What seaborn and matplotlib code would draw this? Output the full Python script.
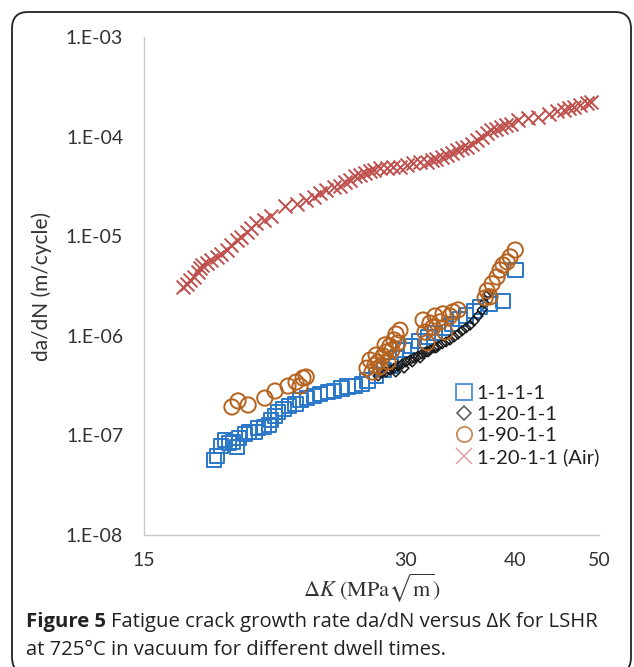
import matplotlib
matplotlib.use("Agg")
import matplotlib.pyplot as plt
import seaborn as sns
import numpy as np
from matplotlib.patches import FancyBboxPatch
from matplotlib.lines import Line2D
from matplotlib.ticker import LogLocator, FixedLocator, FuncFormatter, NullLocator

# 1-1-1-1 (vacuum)
dk_1111 = [18.05, 18.2, 18.4, 18.6, 18.8, 19.0, 19.2, 19.3, 19.6, 19.8, 20.1, 20.3, 20.6, 20.9,
           21.0, 21.2, 21.4, 21.7, 22.0, 22.4, 22.7, 23.1, 23.5, 23.9, 24.4, 24.8, 25.3, 25.7,
           26.2, 26.7, 27.1, 27.7, 28.3, 28.8, 29.2, 29.8, 30.4, 31.1, 31.8, 32.4, 33.2, 33.9,
           34.6, 35.2, 35.9, 36.5, 37.5, 38.8, 40.1]
dadn_1111 = [5.66e-8, 6.2e-8, 7.8e-8, 9.0e-8, 8.4e-8, 8.6e-8, 7.7e-8, 9.4e-8, 1.03e-7, 1.08e-7,
             1.08e-7, 1.19e-7, 1.21e-7, 1.27e-7, 1.43e-7, 1.57e-7, 1.72e-7, 1.85e-7, 1.98e-7,
             2.07e-7, 2.27e-7, 2.38e-7, 2.5e-7, 2.6e-7, 2.73e-7, 2.8e-7, 2.95e-7, 3.1e-7, 3.15e-7,
             3.3e-7, 3.55e-7, 4.0e-7, 4.5e-7, 5.0e-7, 6.0e-7, 7.2e-7, 7.9e-7, 8.9e-7, 9.8e-7,
             1.07e-6, 1.2e-6, 1.32e-6, 1.47e-6, 1.6e-6, 1.76e-6, 1.93e-6, 2.07e-6, 2.22e-6, 4.58e-6]

# 1-20-1-1 (vacuum)
dk_12011 = [27.87, 28.16, 28.46, 28.76, 29.07, 29.38, 29.69, 30.0, 30.33, 30.65, 30.98, 31.31,
            31.64, 31.97, 32.32, 32.66, 33.01, 33.36, 33.71, 34.08, 34.44, 34.8, 35.17, 35.55,
            35.93, 36.31, 36.7, 36.9, 37.09, 37.3, 29.2, 29.85, 30.5, 31.15, 31.8, 32.5]
dadn_12011 = [3.95e-7, 4.23e-7, 4.33e-7, 4.53e-7, 4.74e-7, 4.97e-7, 5.2e-7, 5.46e-7, 5.71e-7,
              5.99e-7, 6.27e-7, 6.57e-7, 6.89e-7, 7.2e-7, 7.55e-7, 7.91e-7, 8.3e-7, 8.7e-7,
              9.08e-7, 9.73e-7, 1.04e-6, 1.12e-6, 1.2e-6, 1.28e-6, 1.41e-6, 1.58e-6, 1.82e-6,
              2.14e-6, 2.52e-6, 2.64e-6, 4.33e-7, 4.74e-7, 5.46e-7, 5.99e-7, 6.89e-7, 7.55e-7]

# 1-90-1-1 (vacuum)
dk_19011 = [18.93, 19.24, 19.76, 20.65, 21.22, 21.96, 22.43, 22.67, 22.85, 23.04,
            27.06, 27.43, 27.65, 27.87, 28.01, 28.24, 28.46, 28.61, 28.76, 28.91, 29.07, 29.22,
            29.38, 29.53, 28.39, 27.72, 27.28,
            31.39, 31.55, 31.72, 31.97, 32.23, 32.4, 32.83, 33.09, 33.27, 33.71, 33.98, 34.44,
            36.99, 37.19, 37.48, 37.68, 38.18, 38.48, 38.79, 39.21, 39.53, 40.06]
dadn_19011 = [1.93e-7, 2.22e-7, 2.02e-7, 2.37e-7, 2.79e-7, 3.13e-7, 3.43e-7, 3.13e-7, 3.77e-7, 3.86e-7,
              4.74e-7, 4.33e-7, 5.08e-7, 5.46e-7, 4.86e-7, 6.27e-7, 6.89e-7, 5.46e-7, 7.91e-7,
              7.2e-7, 9.08e-7, 1.04e-6, 8.5e-7, 1.14e-6, 8.1e-7, 6.4e-7, 5.71e-7,
              1.44e-6, 1.09e-6, 8.5e-7, 1.34e-6, 1.22e-6, 1.58e-6, 1.38e-6, 1.66e-6, 1.09e-6,
              1.58e-6, 1.74e-6, 1.82e-6,
              2.4e-6, 2.83e-6, 2.46e-6, 3.33e-6, 3.9e-6, 4.58e-6, 5.14e-6, 5.52e-6, 6.2e-6, 7.27e-6]

# 1-20-1-1 (air)
dk_air = [16.63, 16.8, 16.94, 17.1, 17.3, 17.39, 17.5, 17.7, 17.9, 18.2, 18.4, 18.7, 18.9, 19.2,
          19.4, 19.7, 19.9, 20.2, 20.6, 21.0, 21.8, 22.5, 23.0, 23.5, 23.9, 24.3, 24.8, 25.2,
          25.5, 25.9, 26.2, 26.6, 26.9, 27.3, 27.6, 28.0, 28.5, 29.0, 29.5, 30.1, 30.6, 31.1,
          31.7, 32.1, 32.5, 33.0, 33.4, 33.9, 34.3, 34.8, 35.3, 35.7, 36.2, 36.7, 37.2, 37.6,
          38.1, 38.6, 39.1, 39.6, 40.4, 41.4, 42.6, 43.8, 44.7, 45.6, 46.2, 46.8, 47.6, 48.4, 49.0]
dadn_air = [3.1e-6, 3.3e-6, 3.63e-6, 3.9e-6, 4.4e-6, 4.8e-6, 5.1e-6, 5.4e-6, 5.8e-6, 6.2e-6,
            6.7e-6, 7.3e-6, 8.1e-6, 9.2e-6, 9.9e-6, 1.1e-5, 1.2e-5, 1.35e-5, 1.45e-5, 1.6e-5,
            2.0e-5, 2.1e-5, 2.3e-5, 2.5e-5, 2.7e-5, 2.9e-5, 3.1e-5, 3.2e-5, 3.5e-5, 3.67e-5,
            4.0e-5, 4.15e-5, 4.3e-5, 4.5e-5, 4.6e-5, 4.8e-5, 4.8e-5, 5.0e-5, 5.0e-5, 5.2e-5,
            5.4e-5, 5.6e-5, 5.6e-5, 5.8e-5, 6.0e-5, 6.3e-5, 6.6e-5, 6.9e-5, 7.3e-5, 7.6e-5,
            7.9e-5, 8.5e-5, 9.25e-5, 1.0e-4, 1.08e-4, 1.16e-4, 1.2e-4, 1.26e-4, 1.3e-4, 1.35e-4,
            1.47e-4, 1.53e-4, 1.58e-4, 1.7e-4, 1.8e-4, 1.85e-4, 1.93e-4, 2.0e-4, 2.08e-4,
            2.17e-4, 2.25e-4]

labels = ["1-1-1-1", "1-20-1-1", "1-90-1-1", "1-20-1-1 (Air)"]
xticks = [15, 30, 40, 50]

blue = "#2b78c8"
black = "#1a1a1a"
brown = "#b5621e"
red = "#c0504d"

sns.set_style("white")
plt.rcParams["font.family"] = ["Lato", "DejaVu Sans"]
plt.rcParams["mathtext.fontset"] = "stix"

fig = plt.figure(figsize=(6.34, 6.67), dpi=100)
ax = fig.add_axes([0.2271, 0.1979, 0.7177, 0.7466])
ax.set_xscale("log")
ax.set_yscale("log")

sns.scatterplot(x=dk_1111, y=dadn_1111, marker="s", s=105, facecolor="none",
                edgecolor=blue, linewidth=1.4, ax=ax)
sns.scatterplot(x=dk_12011, y=dadn_12011, marker="D", s=24, facecolor="none",
                edgecolor=black, linewidth=1.1, ax=ax)
sns.scatterplot(x=dk_19011, y=dadn_19011, marker="o", s=120, facecolor="none",
                edgecolor=brown, linewidth=1.4, ax=ax)
sns.scatterplot(x=dk_air, y=dadn_air, marker="x", s=100, color=red, linewidth=1.4, ax=ax)

ax.set_xlim(15, 50)
ax.set_ylim(1e-8, 1e-3)

ax.xaxis.set_major_locator(FixedLocator(xticks))
ax.xaxis.set_major_formatter(FuncFormatter(lambda v, p: f"{v:g}"))
ax.xaxis.set_minor_locator(NullLocator())
ax.yaxis.set_major_locator(LogLocator(base=10))
ax.yaxis.set_minor_locator(LogLocator(base=10, subs=np.arange(2, 10)))
ax.yaxis.set_major_formatter(FuncFormatter(lambda v, p: f"1.E-{int(round(-np.log10(v))):02d}"))

for side in ["top", "right"]:
    ax.spines[side].set_visible(False)
for side in ["left", "bottom"]:
    ax.spines[side].set_color("#c8c8c8")
    ax.spines[side].set_linewidth(1.0)

ax.tick_params(axis="y", which="major", direction="out", length=5, width=0.8, color="#c8c8c8",
               labelsize=14, labelcolor="#333333", pad=10)
ax.tick_params(axis="y", which="minor", direction="out", length=4, width=0.6, color="#c8c8c8")
ax.tick_params(axis="x", which="major", direction="out", length=5, width=0.8, color="#c8c8c8",
               labelsize=14, labelcolor="#333333", pad=7)

ax.set_ylabel("da/dN (m/cycle)", fontsize=15, color="#333333", labelpad=10)
ax.set_xlabel(r"$\Delta K\ (\mathrm{MPa}\sqrt{\mathrm{m}})$", fontsize=16, color="#333333",
              labelpad=2)

handles = [
    Line2D([], [], ls="none", marker="s", ms=11, mfc="none", mec="#4a8fd6", mew=1.3),
    Line2D([], [], ls="none", marker="D", ms=7, mfc="none", mec="#555555", mew=1.1),
    Line2D([], [], ls="none", marker="o", ms=11, mfc="none", mec="#c98a55", mew=1.3),
    Line2D([], [], ls="none", marker="x", ms=11, mec="#e0a0a0", mew=1.1),
]
leg = ax.legend(handles, labels, loc="upper left", bbox_to_anchor=(0.665, 0.318),
                frameon=False, fontsize=14.5, handlelength=0.9, handletextpad=0.2,
                labelspacing=0.2, borderaxespad=0)
for t in leg.get_texts():
    t.set_color("#222222")

# rounded border around the whole figure panel
box = FancyBboxPatch((12 / 634, -0.01), 619 / 634, 1 - 12 / 667 + 0.01,
                     boxstyle="round,pad=0,rounding_size=0.025", transform=fig.transFigure,
                     fill=False, edgecolor="#222222", linewidth=1.3, clip_on=False)
fig.patches.append(box)

# caption
cap_font = dict(family=["Open Sans", "DejaVu Sans"], fontsize=14.6, color="#222222", va="baseline")
t1 = fig.text(26 / 634, 1 - 627 / 667, "Figure 5", weight="bold", **cap_font)
fig.canvas.draw()
bb = t1.get_window_extent()
fig.text((bb.x1 + 5) / 634, 1 - 627 / 667,
         "Fatigue crack growth rate da/dN versus \u0394K for LSHR", **cap_font)
fig.text(26 / 634, 1 - 655 / 667, "at 725\u00b0C in vacuum for different dwell times.", **cap_font)

fig.savefig("out.png", dpi=100)
plt.close()
